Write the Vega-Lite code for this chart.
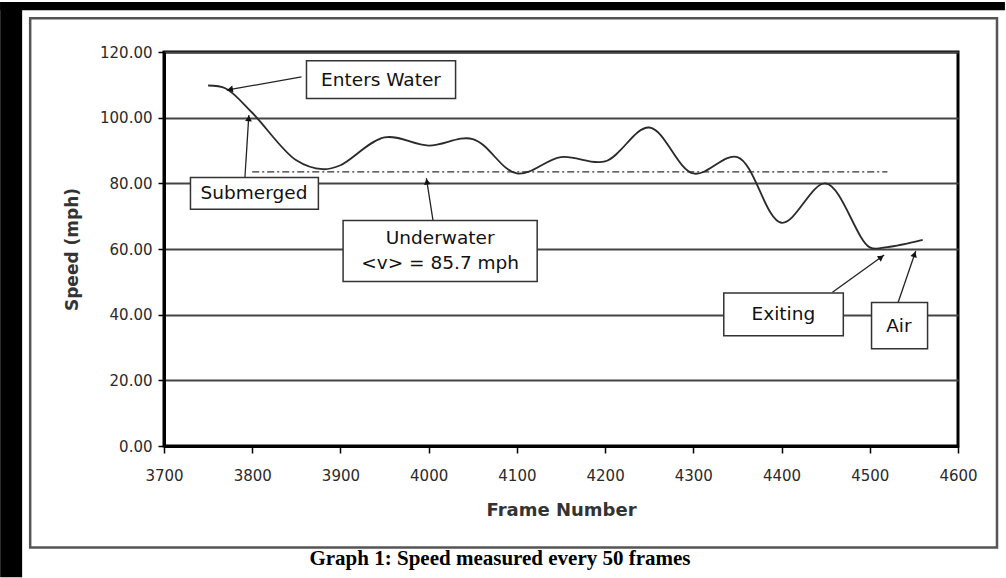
{
  "$schema": "https://vega.github.io/schema/vega-lite/v6.json",
  "width": 794,
  "height": 394,
  "autosize": {"type": "none"},
  "padding": {"left": 164, "top": 52, "right": 48, "bottom": 132},
  "background": "#ffffff",
  "config": {"view": {"stroke": "#000000", "strokeWidth": 3}, "font": "DejaVu Sans"},
  "title": {
    "text": "Graph 1: Speed measured every 50 frames",
    "orient": "bottom",
    "anchor": "middle",
    "frame": "group",
    "font": "Liberation Serif",
    "fontSize": 21,
    "fontWeight": "bold",
    "color": "#000000",
    "offset": -29,
    "dx": -61
  },
  "datasets": {
    "speed": [
      {"frame": 3750, "speed": 109.8},
      {"frame": 3770, "speed": 108.9},
      {"frame": 3800, "speed": 101.5},
      {"frame": 3850, "speed": 87.0},
      {"frame": 3880, "speed": 84.3},
      {"frame": 3900, "speed": 85.5},
      {"frame": 3950, "speed": 94.0},
      {"frame": 4000, "speed": 91.5},
      {"frame": 4050, "speed": 93.5},
      {"frame": 4100, "speed": 83.0},
      {"frame": 4150, "speed": 88.0},
      {"frame": 4200, "speed": 86.7},
      {"frame": 4250, "speed": 97.0},
      {"frame": 4300, "speed": 83.0},
      {"frame": 4350, "speed": 88.0},
      {"frame": 4400, "speed": 68.0},
      {"frame": 4450, "speed": 80.0},
      {"frame": 4500, "speed": 60.5},
      {"frame": 4520, "speed": 60.6},
      {"frame": 4560, "speed": 62.8}
    ],
    "average": [
      {"frame": 3800, "speed": 83.5},
      {"frame": 4520, "speed": 83.5}
    ],
    "boxes": [
      {"name": "Enters Water", "frame": 3861.5, "frame2": 4030.5, "speed": 105.8, "speed2": 117.3},
      {"name": "Submerged", "frame": 3730, "frame2": 3875, "speed": 72.1, "speed2": 81.8},
      {"name": "Underwater", "frame": 3903, "frame2": 4123, "speed": 50.1, "speed2": 68.7},
      {"name": "Exiting", "frame": 4334.5, "frame2": 4470, "speed": 33.6, "speed2": 46.6},
      {"name": "Air", "frame": 4502, "frame2": 4565.5, "speed": 29.6, "speed2": 43.7}
    ],
    "labels": [
      {"frame": 3946, "speed": 111.5, "label": "Enters Water"},
      {"frame": 3802, "speed": 77.0, "label": "Submerged"},
      {"frame": 4013, "speed": 63.4, "label": "Underwater"},
      {"frame": 4013, "speed": 55.7, "label": "<v> = 85.7 mph"},
      {"frame": 4402, "speed": 40.2, "label": "Exiting"},
      {"frame": 4533, "speed": 36.7, "label": "Air"}
    ],
    "arrows": [
      {"frame": 3855.9, "speed": 112.4, "frame2": 3771, "speed2": 108.4},
      {"frame": 3791.7, "speed": 81.8, "frame2": 3796.2, "speed2": 100.8},
      {"frame": 4004.9, "speed": 68.7, "frame2": 3997.4, "speed2": 81.6},
      {"frame": 4457.7, "speed": 46.8, "frame2": 4516.3, "speed2": 58.2},
      {"frame": 4532.1, "speed": 43.7, "frame2": 4552.1, "speed2": 59.4}
    ],
    "heads": [
      {"frame": 3774.8, "speed": 108.6, "angle": 260},
      {"frame": 3796.0, "speed": 99.8, "angle": 4},
      {"frame": 3998.0, "speed": 80.5, "angle": 351},
      {"frame": 4513.0, "speed": 57.5, "angle": 54},
      {"frame": 4550.7, "speed": 58.4, "angle": 19}
    ],
    "strips": [
      {"frame": 3514.3, "frame2": 3539.2, "speed": -40, "speed2": 135.2},
      {"frame": 3514.3, "frame2": 4653.2, "speed": 132.7, "speed2": 135.2}
    ],
    "border": [
      {"frame": 3548.3, "frame2": 4644.2, "speed": -30.9, "speed2": 130.3}
    ]
  },
  "encoding": {
    "x": {
      "field": "frame",
      "type": "quantitative",
      "scale": {"domain": [3700, 4600], "nice": false, "zero": false},
      "axis": {
        "title": "Frame Number",
        "values": [3700, 3800, 3900, 4000, 4100, 4200, 4300, 4400, 4500, 4600],
        "format": "d",
        "grid": false,
        "labelFont": "DejaVu Sans",
        "labelFontSize": 15,
        "labelColor": "#2a2a2a",
        "labelPadding": 15,
        "labelFlush": false,
        "labelOverlap": false,
        "tickColor": "#000000",
        "tickSize": 7,
        "tickWidth": 1.5,
        "domainColor": "#000000",
        "domainWidth": 3,
        "titleFont": "DejaVu Sans",
        "titleFontSize": 18,
        "titleFontWeight": "bold",
        "titleColor": "#333333",
        "titlePadding": 18
      }
    },
    "y": {
      "field": "speed",
      "type": "quantitative",
      "scale": {"domain": [0, 120], "nice": false, "zero": false},
      "axis": {
        "title": "Speed (mph)",
        "values": [0, 20, 40, 60, 80, 100, 120],
        "format": ".2f",
        "grid": true,
        "gridColor": "#444444",
        "gridWidth": 2,
        "labelFont": "DejaVu Sans",
        "labelFontSize": 15,
        "labelColor": "#2a2a2a",
        "labelPadding": 6,
        "tickColor": "#000000",
        "tickSize": 6,
        "tickWidth": 1.5,
        "domainColor": "#000000",
        "domainWidth": 3,
        "titleFont": "DejaVu Sans",
        "titleFontSize": 17,
        "titleFontWeight": "bold",
        "titleColor": "#333333",
        "titlePadding": 18
      }
    }
  },
  "layer": [
    {
      "data": {"name": "strips"},
      "mark": {"type": "rect", "fill": "#000000", "clip": false},
      "encoding": {"x2": {"field": "frame2"}, "y2": {"field": "speed2"}}
    },
    {
      "data": {"name": "border"},
      "mark": {"type": "rect", "fill": null, "fillOpacity": 0, "stroke": "#555555", "strokeWidth": 2.5, "clip": false},
      "encoding": {"x2": {"field": "frame2"}, "y2": {"field": "speed2"}}
    },
    {
      "data": {"name": "average"},
      "mark": {"type": "line", "stroke": "#333333", "strokeWidth": 1.2, "strokeDash": [7, 3, 2, 3]}
    },
    {
      "data": {"name": "speed"},
      "mark": {"type": "line", "stroke": "#2a2a2a", "strokeWidth": 1.8, "interpolate": "catmull-rom"}
    },
    {
      "data": {"name": "arrows"},
      "mark": {"type": "rule", "stroke": "#222222", "strokeWidth": 1.3},
      "encoding": {"x2": {"field": "frame2"}, "y2": {"field": "speed2"}}
    },
    {
      "data": {"name": "heads"},
      "mark": {"type": "point", "shape": "triangle-up", "filled": true, "fill": "#111111", "size": 45, "opacity": 1},
      "encoding": {"angle": {"field": "angle", "type": "quantitative", "scale": null}}
    },
    {
      "data": {"name": "boxes"},
      "mark": {"type": "rect", "fill": "#ffffff", "stroke": "#333333", "strokeWidth": 1.5},
      "encoding": {"x2": {"field": "frame2"}, "y2": {"field": "speed2"}}
    },
    {
      "data": {"name": "labels"},
      "mark": {"type": "text", "font": "DejaVu Sans", "fontSize": 18.5, "color": "#111111", "align": "center", "baseline": "middle"},
      "encoding": {"text": {"field": "label"}}
    }
  ]
}
